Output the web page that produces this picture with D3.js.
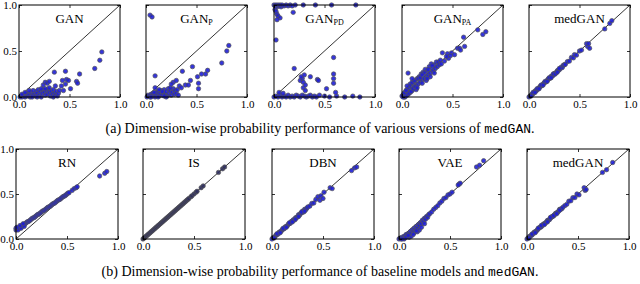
<!DOCTYPE html>
<head>
  <meta charset="utf-8">
  <title>Dimension-wise probability</title>
  <script src="https://d3js.org/d3.v7.min.js"></script>
  <style>
    body { margin: 0; background: #fff; }
    text { font-family: "Liberation Serif", "Times New Roman", serif; }
    .tick text { font-size: 11px; fill: #000; }
    .mono { font-family: "Liberation Mono", "DejaVu Sans Mono", monospace; }
  </style>
</head>
<body>
<svg width="640" height="284"></svg>
<script>

// panel titles: [main, subscript]
var titlesA = [["GAN", ""], ["GAN", "P"], ["GAN", "PD"], ["GAN", "PA"], ["medGAN", ""]];
var titlesB = [["RN", ""], ["IS", ""], ["DBN", ""], ["VAE", ""], ["medGAN", ""]];
var tickValues = [0, 0.5, 1];
var tickLabels = ["0.0", "0.5", "1.0"];
var captionA = ["(a) Dimension-wise probability performance of various versions of ", "medGAN", "."];
var captionB = ["(b) Dimension-wise probability performance of baseline models and ", "medGAN", "."];

var ganPts = [[0.01,0.0],[0.02,0.01],[0.03,0.0],[0.04,0.02],[0.05,0.01],[0.06,0.0],[0.07,0.03],[0.08,0.01],[0.09,0.04],[0.1,0.02],[0.11,0.0],[0.12,0.05],[0.13,0.02],[0.14,0.07],[0.15,0.03],[0.16,0.01],[0.17,0.06],[0.18,0.04],[0.19,0.08],[0.2,0.02],[0.21,0.06],[0.22,0.0],[0.23,0.04],[0.24,0.08],[0.25,0.05],[0.26,0.02],[0.27,0.07],[0.28,0.03],[0.29,0.08],[0.3,0.05],[0.31,0.01],[0.32,0.06],[0.33,0.03],[0.34,0.08],[0.35,0.04],[0.36,0.02],[0.37,0.06],[0.38,0.01],[0.39,0.04],[0.03,0.03],[0.06,0.05],[0.1,0.07],[0.13,0.0],[0.18,0.0],[0.22,0.09],[0.26,0.09],[0.3,0.1],[0.34,0.0],
  [0.24,0.13],[0.26,0.16],[0.28,0.15],[0.3,0.17],[0.35,0.27],[0.4,0.07],[0.44,0.07],[0.43,0.18],[0.46,0.28],[0.47,0.19],[0.49,0.18],[0.51,0.09],[0.57,0.17],[0.58,0.15],[0.6,0.25],[0.75,0.31],[0.8,0.4],[0.82,0.49],[0.42,0.12],[0.36,0.12],[0.46,0.14]];
var ganPPts = [[0.01,0.0],[0.02,0.02],[0.03,0.01],[0.04,0.0],[0.05,0.03],[0.06,0.01],[0.07,0.04],[0.08,0.02],[0.09,0.0],[0.1,0.05],[0.11,0.03],[0.12,0.06],[0.13,0.01],[0.14,0.04],[0.15,0.07],[0.16,0.02],[0.17,0.05],[0.18,0.08],[0.19,0.03],[0.2,0.06],[0.21,0.01],[0.22,0.09],[0.23,0.04],[0.24,0.07],[0.25,0.02],[0.26,0.05],[0.27,0.09],[0.28,0.03],[0.29,0.07],[0.3,0.04],[0.31,0.08],[0.32,0.02],[0.05,0.0],[0.08,0.05],[0.12,0.0],[0.16,0.06],[0.2,0.0],[0.24,0.1],[0.13,0.08],[0.18,0.01],
  [0.04,0.89],[0.06,0.87],[0.09,0.23],[0.09,0.1],[0.27,0.16],[0.3,0.18],[0.36,0.28],[0.39,0.13],[0.42,0.13],[0.44,0.18],[0.46,0.33],[0.51,0.22],[0.52,0.15],[0.52,0.09],[0.55,0.25],[0.59,0.25],[0.61,0.29],[0.75,0.37],[0.8,0.5],[0.82,0.56],[0.33,0.12],[0.35,0.1],[0.25,0.14]];
var ganPDPts = [[0.0,1.0],[0.01,0.99],[0.02,1.0],[0.03,0.98],[0.04,1.0],[0.05,0.99],[0.06,1.0],[0.07,0.98],[0.08,1.0],[0.1,0.99],[0.12,1.0],[0.14,0.99],[0.16,1.0],[0.18,0.99],[0.21,1.0],[0.29,1.0],[0.41,1.0],[0.57,1.0],[0.81,1.0],[0.01,0.95],[0.02,0.93],[0.03,0.9],[0.04,0.88],[0.06,0.86],[0.03,0.84],[0.19,0.92],[0.02,0.62],
  [0.0,0.0],[0.02,0.01],[0.04,0.0],[0.06,0.02],[0.08,0.0],[0.1,0.01],[0.12,0.0],[0.14,0.02],[0.16,0.0],[0.18,0.01],[0.2,0.0],[0.22,0.02],[0.24,0.01],[0.26,0.0],[0.28,0.02],[0.3,0.01],[0.32,0.0],[0.34,0.01],[0.36,0.02],[0.38,0.0],[0.4,0.01],[0.42,0.0],[0.45,0.02],[0.5,0.01],[0.55,0.0],[0.62,0.01],[0.7,0.0],[0.78,0.01],[0.85,0.0],[0.05,0.05],[0.09,0.04],
  [0.2,0.31],[0.26,0.18],[0.28,0.2],[0.29,0.16],[0.29,0.1],[0.31,0.13],[0.31,0.07],[0.36,0.22],[0.43,0.19],[0.44,0.18],[0.52,0.09],[0.59,0.43],[0.59,0.25],[0.59,0.2],[0.59,0.15],[0.61,0.05],[0.27,0.22],[0.3,0.24]];
var ganPAPts = [[0.01,0.02],[0.02,0.0],[0.03,0.05],[0.04,0.02],[0.05,0.08],[0.06,0.03],[0.06,0.26],[0.07,0.1],[0.08,0.05],[0.09,0.12],[0.1,0.07],[0.11,0.15],[0.12,0.1],[0.13,0.17],[0.14,0.12],[0.15,0.2],[0.16,0.14],[0.17,0.22],[0.18,0.16],[0.19,0.25],[0.2,0.19],[0.21,0.27],[0.22,0.2],[0.23,0.3],[0.24,0.22],[0.25,0.28],[0.26,0.24],[0.27,0.33],[0.28,0.26],[0.29,0.36],[0.3,0.3],[0.31,0.28],[0.32,0.35],[0.33,0.31],[0.34,0.38],[0.35,0.33],[0.36,0.38],[0.38,0.4],[0.4,0.48],[0.42,0.39],[0.45,0.47],[0.46,0.42],[0.49,0.48],[0.52,0.46],[0.55,0.53],[0.57,0.53],[0.58,0.51],[0.61,0.65],[0.62,0.55],[0.75,0.73],[0.8,0.68],[0.83,0.71],
  [0.03,0.0],[0.05,0.02],[0.07,0.04],[0.09,0.06],[0.11,0.09],[0.13,0.11],[0.02,0.04],[0.04,0.07],[0.08,0.14],[0.1,0.16],[0.12,0.18],[0.14,0.08],[0.16,0.2],[0.18,0.21],[0.2,0.15],[0.22,0.26],[0.24,0.18],[0.26,0.3],[0.28,0.22],[0.3,0.34],[0.32,0.26],[0.1,0.2],[0.15,0.1],[0.2,0.24],[0.25,0.2],[0.05,0.12],[0.0,0.01],[0.01,0.0],[0.44,0.44],[0.48,0.45],[0.37,0.35],[0.39,0.36]];
var medGanAPts = [[0.0,0.0],[0.01,0.01],[0.02,0.02],[0.03,0.03],[0.04,0.035],[0.05,0.05],[0.06,0.065],[0.07,0.07],[0.08,0.075],[0.09,0.09],[0.1,0.1],[0.11,0.115],[0.12,0.12],[0.13,0.125],[0.14,0.14],[0.15,0.155],[0.16,0.16],[0.17,0.165],[0.18,0.18],[0.19,0.195],[0.2,0.2],[0.21,0.205],[0.22,0.225],[0.23,0.23],[0.24,0.235],[0.25,0.255],[0.26,0.26],[0.27,0.265],[0.28,0.285],[0.29,0.29],[0.3,0.295],[0.31,0.31],[0.32,0.325],[0.33,0.32],[0.34,0.345],[0.35,0.35],[0.36,0.355],[0.38,0.385],[0.4,0.39],[0.42,0.43],[0.44,0.425],[0.45,0.46],[0.47,0.455],[0.5,0.5],[0.52,0.51],[0.57,0.58],[0.58,0.55],[0.59,0.58],[0.6,0.53],[0.75,0.74],[0.8,0.8],[0.82,0.83],
  [0.02,0.01],[0.04,0.05],[0.06,0.05],[0.08,0.09],[0.1,0.09],[0.12,0.13],[0.14,0.13],[0.16,0.17],[0.18,0.17],[0.2,0.21],[0.22,0.21],[0.24,0.25],[0.26,0.25],[0.28,0.27],[0.3,0.31]];
var rnPts = [[0.0,0.1],[0.0,0.12],[0.01,0.11],[0.02,0.12],[0.03,0.12],[0.04,0.13],[0.05,0.14],[0.06,0.15],[0.07,0.155],[0.08,0.16],[0.09,0.17],[0.1,0.18],[0.11,0.19],[0.12,0.195],[0.13,0.2],[0.14,0.21],[0.15,0.22],[0.16,0.23],[0.17,0.235],[0.18,0.24],[0.19,0.25],[0.2,0.26],[0.21,0.27],[0.22,0.275],[0.23,0.28],[0.24,0.29],[0.25,0.3],[0.26,0.31],[0.27,0.315],[0.28,0.32],[0.29,0.33],[0.3,0.34],[0.31,0.35],[0.32,0.355],[0.33,0.36],[0.34,0.37],[0.35,0.38],[0.36,0.39],[0.37,0.395],[0.38,0.4],[0.39,0.41],[0.4,0.42],[0.41,0.43],[0.42,0.435],[0.43,0.44],[0.44,0.45],[0.45,0.46],[0.46,0.47],[0.47,0.475],[0.48,0.48],[0.49,0.49],[0.5,0.5],[0.51,0.51],[0.52,0.515],
  [0.55,0.54],[0.57,0.56],[0.59,0.57],[0.6,0.58],[0.82,0.7],[0.87,0.73],[0.89,0.75],[0.02,0.1],[0.05,0.12],[0.08,0.14],[0.01,0.13],[0.04,0.15],[0.07,0.17]];
var isPts = [[0.0,0.0],[0.01,0.01],[0.02,0.02],[0.03,0.03],[0.04,0.04],[0.05,0.05],[0.06,0.06],[0.07,0.07],[0.08,0.08],[0.09,0.09],[0.1,0.1],[0.11,0.11],[0.12,0.12],[0.13,0.13],[0.14,0.14],[0.15,0.15],[0.16,0.16],[0.17,0.17],[0.18,0.18],[0.19,0.19],[0.2,0.2],[0.21,0.21],[0.22,0.22],[0.23,0.23],[0.24,0.24],[0.25,0.25],[0.26,0.26],[0.27,0.27],[0.28,0.28],[0.29,0.29],[0.3,0.3],[0.31,0.31],[0.32,0.32],[0.33,0.33],[0.34,0.34],[0.35,0.35],[0.36,0.36],[0.37,0.37],[0.38,0.38],[0.39,0.39],[0.4,0.4],[0.41,0.41],[0.42,0.42],[0.43,0.43],[0.44,0.44],[0.45,0.45],[0.47,0.47],[0.48,0.48],[0.5,0.5],[0.52,0.52],[0.53,0.53],[0.57,0.57],[0.59,0.59],[0.74,0.74],[0.78,0.78],[0.8,0.8]];
var dbnPts = [[0.0,0.0],[0.01,0.015],[0.02,0.02],[0.03,0.025],[0.04,0.045],[0.05,0.05],[0.06,0.055],[0.07,0.075],[0.08,0.08],[0.09,0.085],[0.1,0.105],[0.11,0.11],[0.12,0.115],[0.13,0.135],[0.14,0.14],[0.15,0.145],[0.16,0.165],[0.17,0.17],[0.18,0.175],[0.19,0.195],[0.2,0.2],[0.21,0.215],[0.22,0.21],[0.23,0.235],[0.24,0.24],[0.25,0.245],[0.26,0.27],[0.27,0.265],[0.28,0.285],[0.29,0.29],[0.3,0.31],[0.31,0.3],[0.32,0.33],[0.33,0.325],[0.34,0.34],[0.35,0.355],[0.37,0.365],[0.39,0.395],[0.41,0.4],[0.43,0.44],[0.45,0.47],[0.47,0.43],[0.48,0.48],[0.5,0.45],[0.51,0.52],[0.57,0.57],[0.59,0.56],[0.78,0.76],[0.81,0.79],[0.83,0.8],
  [0.02,0.01],[0.05,0.06],[0.08,0.07],[0.11,0.12],[0.14,0.13],[0.17,0.18],[0.2,0.19],[0.23,0.22],[0.26,0.25],[0.29,0.3],[0.32,0.31]];
var vaePts = [[0.0,0.0],[0.02,0.0],[0.03,0.02],[0.04,0.01],[0.05,0.03],[0.06,0.02],[0.07,0.05],[0.08,0.03],[0.09,0.06],[0.1,0.05],[0.11,0.08],[0.12,0.06],[0.13,0.1],[0.14,0.08],[0.15,0.12],[0.16,0.1],[0.17,0.14],[0.18,0.12],[0.19,0.16],[0.2,0.15],[0.21,0.18],[0.22,0.17],[0.23,0.21],[0.24,0.19],[0.25,0.23],[0.26,0.22],[0.27,0.25],[0.28,0.24],[0.29,0.27],[0.3,0.28],[0.32,0.3],[0.34,0.33],[0.36,0.35],[0.38,0.37],[0.4,0.4],[0.42,0.42],[0.44,0.45],[0.46,0.46],[0.48,0.49],[0.5,0.5],[0.52,0.52],[0.59,0.61],[0.6,0.62],[0.58,0.6],[0.76,0.8],[0.79,0.82],[0.83,0.87],
  [0.1,0.02],[0.15,0.07],[0.2,0.1],[0.05,0.0],[0.12,0.03],[0.18,0.08],[0.22,0.13],[0.25,0.17],[0.01,0.01],[0.03,0.0],[0.07,0.02],[0.09,0.04],[0.14,0.05],[0.17,0.09]];
var medGanBPts = [[0.0,0.0],[0.01,0.01],[0.02,0.025],[0.03,0.03],[0.04,0.04],[0.05,0.045],[0.06,0.06],[0.07,0.075],[0.08,0.08],[0.09,0.085],[0.1,0.1],[0.11,0.11],[0.12,0.125],[0.13,0.13],[0.14,0.135],[0.15,0.15],[0.16,0.165],[0.17,0.17],[0.18,0.175],[0.19,0.19],[0.2,0.205],[0.21,0.21],[0.22,0.215],[0.23,0.23],[0.24,0.245],[0.25,0.25],[0.26,0.255],[0.27,0.27],[0.28,0.285],[0.29,0.29],[0.3,0.295],[0.31,0.31],[0.32,0.33],[0.33,0.33],[0.34,0.335],[0.35,0.35],[0.37,0.37],[0.39,0.385],[0.41,0.42],[0.43,0.425],[0.45,0.46],[0.47,0.46],[0.49,0.5],[0.51,0.49],[0.56,0.57],[0.57,0.54],[0.58,0.55],[0.74,0.74],[0.78,0.77],[0.84,0.85],
  [0.02,0.01],[0.05,0.055],[0.08,0.07],[0.11,0.12],[0.14,0.15],[0.17,0.16],[0.2,0.19],[0.23,0.24],[0.26,0.26],[0.29,0.28],[0.32,0.32]];

var dataA = [ganPts, ganPPts, ganPDPts, ganPAPts, medGanAPts];
var dataB = [rnPts, isPts, dbnPts, vaePts, medGanBPts];

var svg = d3.select("svg");

function drawRow(titles, data, lefts, top, w, h, caption, capY) {
  lefts.forEach(function(left, i) {
    var x = d3.scaleLinear().domain([0, 1]).range([0, w]);
    var y = d3.scaleLinear().domain([0, 1]).range([h, 0]);
    var g = svg.append("g").attr("transform", "translate(" + left + "," + top + ")");

    // diagonal
    g.append("line")
      .attr("x1", x(0)).attr("y1", y(0))
      .attr("x2", x(1)).attr("y2", y(1))
      .attr("stroke", "#000").attr("stroke-width", 0.8);

    g.selectAll("circle")
      .data(data[i])
      .enter().append("circle")
      .attr("cx", function(d) { return x(d[0]); })
      .attr("cy", function(d) { return y(d[1]); })
      .attr("r", 2.2)
      .attr("fill", titles[i][0] == "IS" ? "#2e2e5e" : "#1f1fd6")
      .attr("fill-opacity", 0.9)
      .attr("stroke", "#555")
      .attr("stroke-opacity", 0.85)
      .attr("stroke-width", 0.8);

    var fmt = function(d, j) { return tickLabels[j]; };
    var bottom = d3.axisBottom(x).tickValues(tickValues).tickFormat(fmt).tickSize(-3).tickPadding(3);
    var leftAx = d3.axisLeft(y).tickValues(tickValues).tickSize(-3).tickPadding(2)
      .tickFormat(i == 0 ? fmt : function() { return ""; });
    var topAx = d3.axisTop(x).tickValues(tickValues).tickSize(-3).tickFormat("");
    var rightAx = d3.axisRight(y).tickValues(tickValues).tickSize(-3).tickFormat("");

    g.append("g").attr("transform", "translate(0," + h + ")").call(bottom);
    g.append("g").call(leftAx);
    g.append("g").call(topAx);
    g.append("g").attr("transform", "translate(" + w + ",0)").call(rightAx);
    g.selectAll(".domain").remove();
    g.selectAll("g").attr("font-family", null).attr("font-size", null);
    g.selectAll(".tick line").attr("stroke", "#000").attr("stroke-width", 0.8);

    g.append("rect")
      .attr("width", w).attr("height", h)
      .attr("fill", "none").attr("stroke", "#000").attr("stroke-width", 1);

    var t = g.append("text")
      .attr("x", w / 2).attr("y", 18)
      .attr("text-anchor", "middle")
      .attr("font-size", 13)
      .text(titles[i][0]);
    if (titles[i][1]) {
      t.append("tspan").attr("font-size", 8).attr("dy", 2).text(titles[i][1]);
    }
  });

  var c = svg.append("text")
    .attr("x", 320).attr("y", capY)
    .attr("text-anchor", "middle")
    .attr("font-size", 14);
  c.append("tspan").text(caption[0]);
  c.append("tspan").attr("class", "mono").attr("font-size", 13).text(caption[1]);
  c.append("tspan").text(caption[2]);
}

drawRow(titlesA, dataA, [19, 146, 274, 402, 529], 5, 101, 92, captionA, 133);
drawRow(titlesB, dataB, [16, 143, 272, 399, 527], 149, 102, 90, captionB, 276);

</script>
</body>
